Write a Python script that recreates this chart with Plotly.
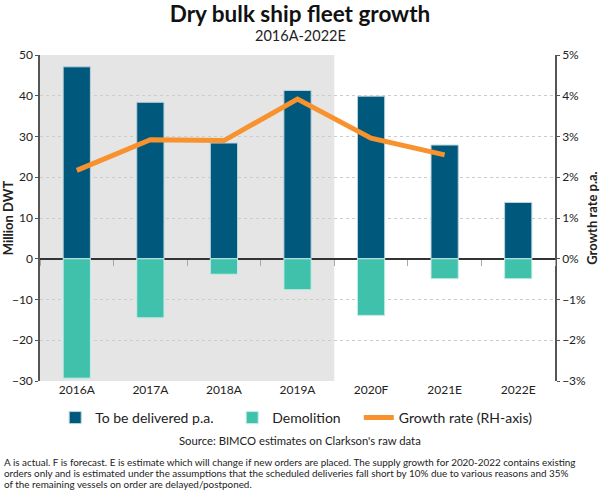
import plotly.graph_objects as go

years = ['2016A', '2017A', '2018A', '2019A', '2020F', '2021E', '2022E']
delivered = [47.1, 38.4, 28.4, 41.3, 39.9, 27.9, 13.8]
demolition = [-29.3, -14.5, -3.8, -7.6, -13.9, -4.9, -4.9]
growth_years = ['2016A', '2017A', '2018A', '2019A', '2020F', '2021E']
growth = [2.17, 2.92, 2.9, 3.92, 2.96, 2.55]

footnote = [
    'A is actual. F is forecast. E is estimate which will change if new orders are placed. '
    'The supply growth for 2020-2022 contains existing',
    'orders only and is estimated under the assumptions that the scheduled deliveries fall '
    'short by 10% due to various reasons and 35%',
    'of the remaining vessels on order are delayed/postponed.',
]

FONT = 'Lato'
TXT = '#222222'

fig = go.Figure()

fig.add_trace(go.Bar(
    x=years, y=delivered, name='To be delivered p.a.', legend='legend',
    marker={'color': '#00587c', 'line': {'width': 1, 'color': '#b9d3dc'}},
))
fig.add_trace(go.Bar(
    x=years, y=demolition, name='Demolition', legend='legend2',
    marker={'color': '#40c1ac', 'line': {'width': 1, 'color': '#c4ece5'}},
))
fig.add_trace(go.Scatter(
    x=growth_years, y=growth, name='Growth rate (RH-axis)', legend='legend3',
    mode='lines', line={'color': '#f7922e', 'width': 5},
    yaxis='y2',
))
# invisible trace on x2 so the boundary ticks on the zero line get drawn
fig.add_trace(go.Scatter(x=years, y=[0] * len(years), xaxis='x2', mode='markers',
                         marker={'opacity': 0}, showlegend=False, hoverinfo='skip'))

# shaded "actual" period
fig.add_shape(type='rect', xref='x', yref='paper', x0=-0.5, x1=3.5, y0=0, y1=1,
              fillcolor='#e5e5e5', line={'width': 0}, layer='below')


def legend_box(x):
    return {'orientation': 'h', 'x': x, 'xanchor': 'left', 'xref': 'container',
            'y': 0.1556, 'yref': 'container', 'yanchor': 'middle',
            'font': {'size': 14, 'color': TXT}, 'itemwidth': 30,
            'bgcolor': 'rgba(0,0,0,0)'}


fig.update_layout(
    width=600, height=495,
    margin={'l': 40, 'r': 45, 't': 55, 'b': 114, 'autoexpand': False},
    paper_bgcolor='white', plot_bgcolor='white',
    font={'family': FONT, 'size': 12, 'color': TXT},
    barmode='relative', bargap=0.63,
    showlegend=True,
    legend=legend_box(0.092),
    legend2=legend_box(0.387),
    legend3=legend_box(0.598),
    title={'text': '<b>Dry bulk ship fleet growth</b>', 'x': 0.5, 'xref': 'container',
           'xanchor': 'center', 'y': 0.972, 'yanchor': 'middle',
           'font': {'size': 22.5, 'color': '#111111', 'family': FONT}},
    xaxis={'type': 'category', 'showgrid': False, 'showline': False, 'ticks': '',
           'tickfont': {'size': 12, 'color': TXT}, 'range': [-0.5, 6.5], 'automargin': False},
    xaxis2={'type': 'category', 'overlaying': 'x', 'anchor': 'free', 'position': 0.375,
            'side': 'bottom', 'showticklabels': False, 'ticks': 'outside',
            'tickson': 'boundaries', 'ticklen': 6, 'tickwidth': 1.2, 'tickcolor': '#a8a8a8',
            'showgrid': False, 'showline': False, 'range': [-0.5, 6.5], 'automargin': False},
    yaxis={'range': [-30, 50], 'dtick': 10, 'showgrid': True, 'gridcolor': '#cccccc',
           'griddash': 'dot', 'gridwidth': 1, 'zeroline': True, 'zerolinecolor': '#333333',
           'zerolinewidth': 1.5, 'showline': True, 'linecolor': '#555555', 'linewidth': 1.5,
           'ticks': 'outside', 'ticklen': 3, 'tickcolor': '#555555', 'automargin': False,
           'tickfont': {'size': 12, 'color': TXT},
           'title': {'text': '<b>Million DWT</b>', 'font': {'size': 13, 'color': TXT},
                     'standoff': 4}},
    yaxis2={'range': [-3, 5], 'dtick': 1, 'overlaying': 'y', 'side': 'right',
            'ticksuffix': '%', 'showgrid': False, 'zeroline': False, 'showline': True,
            'linecolor': '#555555', 'linewidth': 1.5, 'ticks': 'outside', 'ticklen': 3,
            'tickcolor': '#555555', 'tickfont': {'size': 12, 'color': TXT}, 'automargin': False,
            'title': {'text': '<b>Growth rate p.a.</b>', 'font': {'size': 13, 'color': TXT},
                      'standoff': 6}},
)

fig.add_annotation(text='2016A-2022E', xref='paper', yref='paper', x=0.505, y=1.0613,
                   xanchor='center', yanchor='middle', showarrow=False,
                   font={'size': 14.5, 'color': TXT})
fig.add_annotation(text="Source: BIMCO estimates on Clarkson's raw data", xref='paper',
                   yref='paper', x=0.505, y=-0.184, xanchor='center', yanchor='middle',
                   showarrow=False, font={'size': 11.3, 'color': TXT})
for i, line in enumerate(footnote):
    fig.add_annotation(text=line, xref='paper', yref='paper', x=-0.0738,
                       y=-0.2485 - i * 0.0337, xanchor='left', yanchor='middle',
                       align='left', showarrow=False, font={'size': 9.9, 'color': TXT})

# drop the browser's default body margin so the figure sits at the window's corner
fig.write_html('out.html', config={'displayModeBar': False},
               post_script="document.body.style.margin='0';")
